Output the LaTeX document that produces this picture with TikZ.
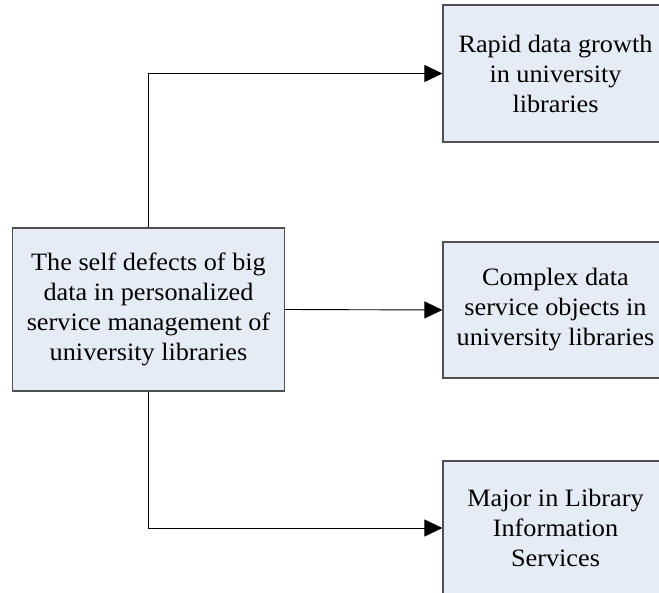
\documentclass[tikz,border=0pt]{standalone}
\usepackage{fontspec}
\setmainfont[FakeStretch=1.05]{Liberation Serif}
\usetikzlibrary{arrows.meta}
\definecolor{boxfill}{RGB}{230,236,246}
\definecolor{boxline}{RGB}{80,80,80}
\tikzset{
  blockbox/.style={draw=boxline, line width=1.2pt, fill=boxfill, align=center,
    inner sep=0pt, font=\fontsize{25}{30}\selectfont},
  link/.style={draw=black, line width=0.9pt,
    -{Triangle[length=18pt,width=17pt]}}
}
\begin{document}
\begin{tikzpicture}[x=1pt,y=1pt]
\useasboundingbox (0,0) rectangle (659,-593);
\clip (0,0) rectangle (659,-593);
% cause box on the left
\node[blockbox, minimum width=272pt, minimum height=163pt] (src) at (148.5,-309.5)
  {The self defects of big\\data in personalized\\service management of\\university libraries};
% consequence boxes on the right
\node[blockbox, minimum width=225pt, minimum height=137pt] (top) at (555.5,-73.5)
  {Rapid data growth\\in university\\libraries};
\node[blockbox, minimum width=225pt, minimum height=136pt] (mid) at (555.5,-310)
  {Complex data\\service objects in\\university libraries};
\node[blockbox, minimum width=225pt, minimum height=134pt] (bot) at (555.5,-528)
  {Major in Library\\Information\\Services};
% connectors
\draw[link] (src.north) |- (top.west);
\draw[link] (src.east) -- (mid.west);
\draw[link] (src.south) |- (bot.west);
\end{tikzpicture}
\end{document}
